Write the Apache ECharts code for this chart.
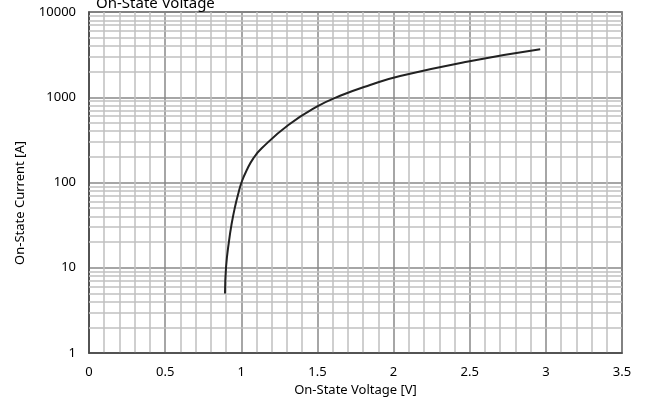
<!DOCTYPE html>
<html>
<head>
<meta charset="utf-8">
<script src="https://cdn.jsdelivr.net/npm/echarts@6/dist/echarts.min.js"></script>
<style>
  html, body { margin: 0; padding: 0; background: #fff; }
  #chart { width: 645px; height: 404px; }
</style>
</head>
<body>
<div id="chart"></div>
<script>
// on-state characteristic
var voltage = [0.893, 0.900, 0.920, 0.937, 0.959, 0.981, 1.003, 1.036, 1.079, 1.134, 1.309, 1.496, 1.649, 1.846, 2.043, 2.481, 2.963]
var current = [5, 10.2, 21, 33, 52, 75, 102, 140, 192, 252, 472, 775, 1040, 1393, 1775, 2612, 3650]

// log grid: decades and the 2..9 lines inside each
var decades = [1, 10, 100, 1000]
var minorSteps = [2, 3, 4, 5, 6, 7, 8, 9]

var curve = voltage.map(function (v, i) { return [v, current[i]] })
var minorLines = []
decades.forEach(function (d) {
  minorSteps.forEach(function (m) {
    minorLines.push({ yAxis: d * m })
  })
})

var font = 'Noto Sans'

var chart = echarts.init(document.getElementById('chart'))
chart.setOption({
  animation: false,
  title: {
    text: 'On-State Voltage',
    left: 91,
    top: -9,
    textStyle: { fontSize: 15, fontWeight: 'normal', color: '#000', fontFamily: font },
  },
  grid: {
    left: 89,
    right: 23,
    top: 12,
    bottom: 51,
    show: true,
    borderColor: '#444',
    borderWidth: 1.5,
  },
  xAxis: {
    type: 'value',
    min: 0,
    max: 3.5,
    interval: 0.5,
    name: 'On-State Voltage [V]',
    nameLocation: 'middle',
    nameGap: 26,
    nameTextStyle: { fontSize: 13, color: '#000', fontFamily: font },
    axisLine: { show: true, lineStyle: { color: '#444', width: 1.5 } },
    axisTick: { show: false },
    axisLabel: { margin: 13, fontSize: 13, color: '#000', fontFamily: font },
    splitLine: { show: true, lineStyle: { color: '#888', width: 1.5 } },
    minorTick: { show: false, splitNumber: 5 },
    minorSplitLine: { show: true, lineStyle: { color: '#c0c0c0', width: 1.5 } },
  },
  yAxis: {
    type: 'log',
    logBase: 10,
    min: 1,
    max: 10000,
    axisLine: { show: true, lineStyle: { color: '#444', width: 1.5 } },
    axisTick: { show: false },
    axisLabel: {
      margin: 13,
      fontSize: 13,
      color: '#000',
      fontFamily: font,
      formatter: function (v) { return String(Math.round(v)) },
    },
    splitLine: { show: true, lineStyle: { color: '#888', width: 1.5 } },
  },
  graphic: [
    {
      type: 'text',
      x: 20,
      y: 203,
      rotation: Math.PI / 2,
      style: {
        text: 'On-State Current [A]',
        fontSize: 13,
        fontFamily: font,
        fill: '#000',
        align: 'center',
        verticalAlign: 'middle',
      },
    },
  ],
  series: [
    {
      type: 'line',
      data: [],
      silent: true,
      z: 1,
      markLine: {
        silent: true,
        symbol: 'none',
        label: { show: false },
        lineStyle: { color: '#c0c0c0', width: 1.5, type: 'solid' },
        data: minorLines,
      },
    },
    {
      type: 'line',
      data: curve,
      smooth: 0.5,
      showSymbol: false,
      z: 5,
      lineStyle: { color: '#222', width: 2 },
    },
  ],
})
</script>
</body>
</html>
